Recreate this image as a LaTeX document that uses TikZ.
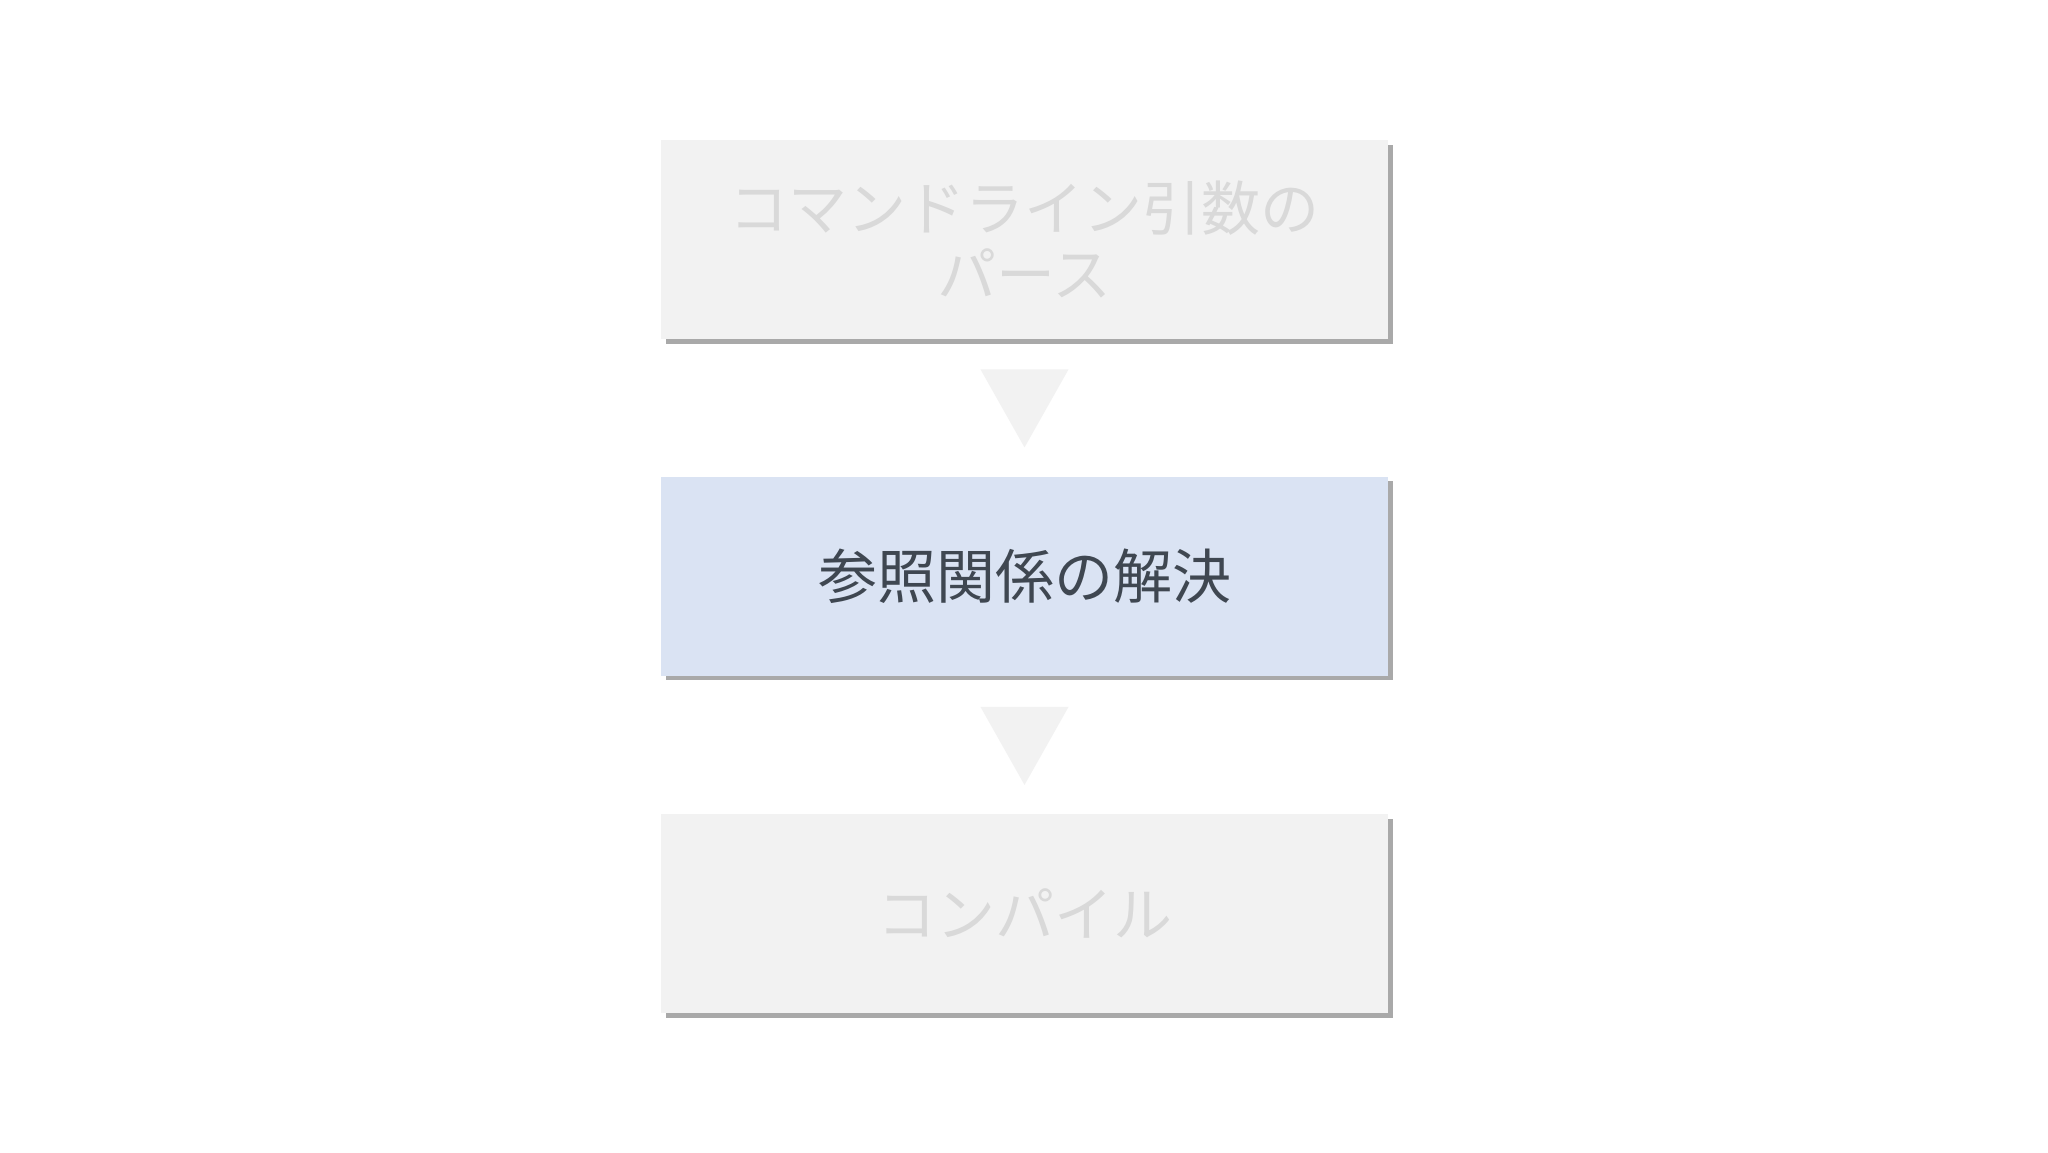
\documentclass[tikz,border=0pt]{standalone}
\usepackage{fontspec}
\newfontfamily\cjk{Noto Sans CJK JP}
\usetikzlibrary{shadows,calc}
\definecolor{boxgray}{HTML}{F2F2F2}
\definecolor{boxblue}{HTML}{DAE3F3}
\definecolor{txtgray}{HTML}{D9D9D9}
\definecolor{txtdark}{HTML}{3F4751}
\definecolor{shadowgray}{HTML}{A9A9A9}
\tikzset{
  stepbox/.style={rectangle, minimum width=363.5pt, minimum height=99.5pt, inner sep=0pt,
    align=center, font=\cjk\fontsize{29.5pt}{33pt}\selectfont,
    drop shadow={shadow xshift=2.4pt, shadow yshift=-2.4pt, fill=shadowgray, opacity=1}},
  dimbox/.style={stepbox, fill=boxgray, text=txtgray},
  activebox/.style={stepbox, fill=boxblue, text=txtdark},
  downtri/.style={fill=boxgray, draw=none}
}
\begin{document}
\begin{tikzpicture}[x=0.5pt,y=-0.5pt]
\useasboundingbox[fill=white] (0,0) rectangle (2048,1152);
\node[dimbox] (b1) at (1024.5,239.5) {コマンドライン引数の\\パース};
\node[activebox] (b2) at (1024.5,576) {参照関係の解決};
\node[dimbox] (b3) at (1024.5,913.5) {コンパイル};
\fill[downtri] ($(b1.south)+(-44,30)$) -- ($(b1.south)+(44,30)$) -- ($(b1.south)+(0,108)$) -- cycle;
\fill[downtri] ($(b2.south)+(-44,31)$) -- ($(b2.south)+(44,31)$) -- ($(b2.south)+(0,109)$) -- cycle;
\end{tikzpicture}
\end{document}
